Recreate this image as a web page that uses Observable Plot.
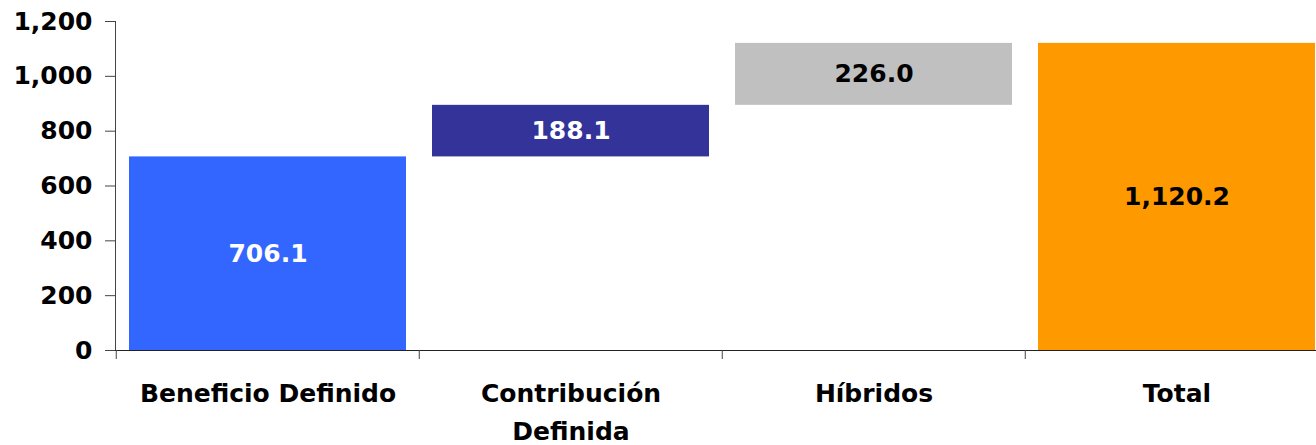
<!DOCTYPE html>
<html>
<head>
<meta charset="utf-8">
<script src="https://cdn.jsdelivr.net/npm/d3@7"></script>
<script src="https://cdn.jsdelivr.net/npm/@observablehq/plot@0.6"></script>
<style>
  html, body { margin: 0; padding: 0; background: #fff; overflow: hidden; }
  #chart svg { display: block; }
</style>
</head>
<body>
<div id="chart"></div>
<script>
const categories = ["Beneficio Definido", "Contribución\nDefinida", "Híbridos", "Total"];
const values = [706.1, 188.1, 226.0, 1120.2];
const isTotal = [false, false, false, true];
const valueLabels = ["706.1", "188.1", "226.0", "1,120.2"];
const barColors = ["#3366FF", "#333399", "#C0C0C0", "#FF9900"];
const labelColors = ["#FFFFFF", "#FFFFFF", "#000000", "#000000"];
const yTicks = [0, 200, 400, 600, 800, 1000, 1200];

// build waterfall table
let running = 0;
const data = categories.map((c, i) => {
  let start, end;
  if (isTotal[i]) { start = 0; end = values[i]; }
  else { start = running; end = running + values[i]; running = end; }
  return { cat: c, start, end, mid: (start + end) / 2, label: valueLabels[i], fill: barColors[i], tfill: labelColors[i] };
});

const font = "'DejaVu Sans', Verdana, sans-serif";
const xRange = [115, 1329];
const step = (xRange[1] - xRange[0]) / categories.length;

const chart = Plot.plot({
  width: 1316,
  height: 445,
  marginLeft: 115,
  marginTop: 21,
  marginBottom: 95,
  marginRight: 0,
  style: { fontFamily: font, fontWeight: "bold", background: "#fff", overflow: "hidden" },
  x: { type: "band", domain: categories, range: xRange, paddingInner: 0.086, paddingOuter: 0.043 },
  y: { domain: [0, 1200] },
  color: { type: "identity" },
  marks: [
    Plot.barY(data, { x: "cat", y1: "start", y2: "end", fill: "fill" }),
    Plot.frame({ anchor: "left", stroke: "#444" }),
    Plot.ruleY([0], { stroke: "#222" }),
    Plot.ruleX(categories, { x: d => d, y1: 0, y2: 0, dx: -step / 2, insetBottom: -9, stroke: "#444" }),
    Plot.axisY({ ticks: yTicks, tickFormat: d3.format(","), tickSize: 10, tickPadding: 13, fontSize: 25, fontWeight: "bold", fill: "#000", stroke: "#444" }),
    Plot.axisX({ tickSize: 0, tickPadding: 24, fontSize: 25, fontWeight: "bold", fill: "#000", lineHeight: 1.54, label: null }),
    Plot.text(data, { x: "cat", y: "mid", text: "label", fill: "tfill", fontSize: 25, fontWeight: "bold" })
  ]
});
document.getElementById("chart").appendChild(chart);
</script>
</body>
</html>
